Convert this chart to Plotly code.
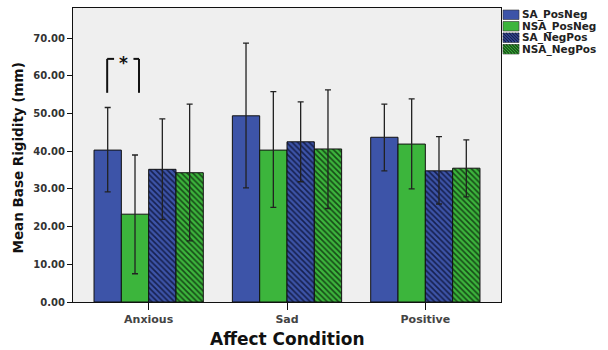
import plotly.graph_objects as go

categories = ["Anxious", "Sad", "Positive"]
series_names = ["SA_PosNeg", "NSA_PosNeg", "SA_NegPos", "NSA_NegPos"]

sa_posneg = [40.3, 49.4, 43.7]
sa_posneg_hi = [51.6, 68.7, 52.5]
sa_posneg_lo = [29.2, 30.3, 34.8]

nsa_posneg = [23.3, 40.3, 41.9]
nsa_posneg_hi = [39.0, 55.8, 53.9]
nsa_posneg_lo = [7.5, 25.1, 30.0]

sa_negpos = [35.2, 42.5, 34.8]
sa_negpos_hi = [48.6, 53.1, 43.9]
sa_negpos_lo = [21.9, 31.9, 26.0]

nsa_negpos = [34.3, 40.6, 35.5]
nsa_negpos_hi = [52.5, 56.3, 43.0]
nsa_negpos_lo = [16.2, 24.8, 27.9]

y_ticks = [0, 10, 20, 30, 40, 50, 60, 70]

BLUE = "#3d54a8"
GREEN = "#3cb53c"
BLUE_LINE = "#16204e"
GREEN_LINE = "#174a17"
FONT = "DejaVu Sans"

values = [sa_posneg, nsa_posneg, sa_negpos, nsa_negpos]
his = [sa_posneg_hi, nsa_posneg_hi, sa_negpos_hi, nsa_negpos_hi]
los = [sa_posneg_lo, nsa_posneg_lo, sa_negpos_lo, nsa_negpos_lo]
colors = [BLUE, GREEN, BLUE, GREEN]
hatch = [None, None, BLUE_LINE, GREEN_LINE]

fig = go.Figure()
for name, v, hi, lo, c, h in zip(series_names, values, his, los, colors, hatch):
    marker = dict(color=c, line=dict(color="#111111", width=1))
    if h:
        marker["pattern"] = dict(shape="\\", fgcolor=h, bgcolor=c, size=4,
                                 solidity=0.4, fillmode="replace")
    fig.add_trace(go.Bar(
        name=name, x=categories, y=v, marker=marker,
        error_y=dict(type="data", symmetric=False,
                     array=[a - b for a, b in zip(hi, v)],
                     arrayminus=[b - a for a, b in zip(lo, v)],
                     color="#222222", thickness=1.3, width=3),
    ))

L, R, T, B = 73, 107, 8, 48
W, H = 608, 350
PW, PH = W - L - R, H - T - B

def px_x(p):
    return (p - L) / PW

def px_y(p):
    return (H - B - p) / PH

shapes = []
annotations = []

# significance bracket (Anxious: SA_PosNeg vs NSA_PosNeg)
bl, br = -0.30, -0.07
yb, yt = 55.5, 64.5
line_style = dict(color="#111111", width=2)
for x0, y0, x1, y1 in [(bl, yb, bl, yt), (bl, yt, -0.25, yt),
                       (-0.11, yt, br, yt), (br, yt, br, yb)]:
    shapes.append(dict(type="line", xref="x", yref="y", x0=x0, y0=y0,
                       x1=x1, y1=y1, line=line_style))
annotations.append(dict(x=-0.18, y=63.5, xref="x", yref="y", text="<b>*</b>",
                        showarrow=False, font=dict(family=FONT, size=17, color="#111"),
                        yanchor="middle"))

# custom compact legend
sw_x0, sw_x1 = 503, 519
step = 11.5
for i, (name, c, h) in enumerate(zip(series_names, colors, hatch)):
    top = 10 + step * i
    bot = top + 9.5
    shapes.append(dict(type="rect", xref="paper", yref="paper",
                       x0=px_x(sw_x0), x1=px_x(sw_x1), y0=px_y(bot), y1=px_y(top),
                       fillcolor=c, line=dict(color="#333", width=0.6)))
    if h:
        segs = []
        wdt, hgt = sw_x1 - sw_x0, 9
        for k in range(-hgt, wdt, 3):
            t0 = max(0, -k)
            t1 = min(hgt, wdt - k)
            if t1 <= t0:
                continue
            segs.append(f"M{k + t0},{-t0} L{k + t1},{-t1}")
        shapes.append(dict(type="path", xref="paper", yref="paper",
                           xsizemode="pixel", ysizemode="pixel",
                           xanchor=px_x(sw_x0), yanchor=px_y(top),
                           path=" ".join(segs), line=dict(color=h, width=1.2)))
    annotations.append(dict(x=px_x(521), y=px_y((top + bot) / 2), xref="paper", yref="paper",
                            text=f"<b>{name}</b>", showarrow=False, xanchor="left",
                            yanchor="middle", borderpad=0,
                            font=dict(family=FONT, size=10.5, color="#222")))

# axis titles
annotations.append(dict(x=px_x(17.5), y=px_y(158), xref="paper", yref="paper",
                        text="<b>Mean Base Rigidity (mm)</b>", textangle=-90,
                        showarrow=False, xanchor="center", yanchor="middle",
                        font=dict(family=FONT, size=13.5, color="#111")))
annotations.append(dict(x=0.5, y=px_y(339), xref="paper", yref="paper",
                        text="<b>Affect Condition</b>", showarrow=False,
                        xanchor="center", yanchor="middle",
                        font=dict(family=FONT, size=17, color="#111")))

fig.update_layout(
    width=W, height=H,
    margin=dict(l=L, r=R, t=T, b=B, autoexpand=False),
    paper_bgcolor="white", plot_bgcolor="#efefef",
    barmode="group", bargap=0.21, bargroupgap=0,
    showlegend=False,
    shapes=shapes, annotations=annotations,
    xaxis=dict(range=[-0.547, 2.547], showline=True, linecolor="#111", linewidth=1,
               mirror=True, ticks="outside", ticklen=7, tickcolor="#111",
               tickfont=dict(family=FONT, size=11, color="#444", weight="bold"),
               showgrid=False, fixedrange=True),
    yaxis=dict(range=[0, 78], tickvals=y_ticks, tickformat=".2f",
               showline=True, linecolor="#111", linewidth=1, mirror=True,
               ticks="outside", ticklen=5, tickcolor="#111",
               tickfont=dict(family=FONT, size=10, color="#333", weight="bold"),
               showgrid=False, zeroline=False, fixedrange=True),
)

fig.write_html("out.html", config={"displayModeBar": False},
               post_script="document.body.style.margin='0';")
